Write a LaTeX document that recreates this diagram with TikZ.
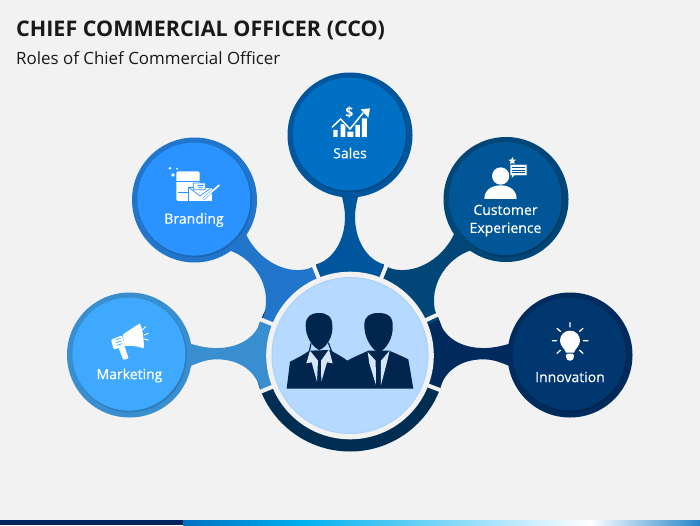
\documentclass[tikz,border=0pt]{standalone}
\usepackage{fontspec}
\setmainfont{Open Sans}
\newfontfamily\labelfont[FakeBold=0.45]{Open Sans}
\usetikzlibrary{shapes.geometric}
\definecolor{bgc}{HTML}{F2F2F2}
\definecolor{mktO}{HTML}{398ED0}\definecolor{mktS}{HTML}{2E7DBB}\definecolor{mktI}{HTML}{3FA9FF}
\definecolor{brdO}{HTML}{2176CB}\definecolor{brdS}{HTML}{1C67B2}\definecolor{brdI}{HTML}{2B93FF}
\definecolor{salO}{HTML}{00569C}\definecolor{salS}{HTML}{004A87}\definecolor{salI}{HTML}{0070C4}
\definecolor{cusO}{HTML}{004677}\definecolor{cusS}{HTML}{003A64}\definecolor{cusI}{HTML}{005696}
\definecolor{innO}{HTML}{002B5C}\definecolor{innS}{HTML}{00254F}\definecolor{innI}{HTML}{00376F}
\definecolor{ringD}{HTML}{002E52}
\definecolor{lightC}{HTML}{B5D9FF}\definecolor{lightE}{HTML}{A8D2FB}
\definecolor{figC}{HTML}{00264F}\definecolor{shirtC}{HTML}{D5E6F8}
\definecolor{barA}{HTML}{002060}\definecolor{barB}{HTML}{0070C0}\definecolor{barC}{HTML}{00B0F0}
\tikzset{
  x=1pt,y=-1pt,
  outerc/.style={circle,inner sep=0pt,minimum size=125pt,fill=#1},
  shadc/.style={circle,inner sep=0pt,minimum size=114pt,fill=#1},
  innerc/.style={circle,inner sep=0pt,minimum size=113pt,fill=#1},
  lbl/.style={text=white,font=\labelfont\fontsize{14}{18}\selectfont,align=center,inner sep=0pt},
  gapline/.style={draw=bgc,line width=4pt},
  icon/.style={fill=white,draw=none},
  iconline/.style={draw=white,line cap=round},
  zA/.style={shift={(230,230)},x=.3333pt,y=-.3333pt},
  zB/.style={shift={(50,280)},x=.3333pt,y=-.3333pt},
  zC/.style={shift={(150,70)},x=.3333pt,y=-.3333pt},
  zD/.style={shift={(430,130)},x=.3333pt,y=-.3333pt},
}
\newcommand{\bubble}[6]{%
  \node[outerc=#4] (#1o) at (#2,#3) {};
  \node[shadc=#5] (#1s) at (#2+0.4,#3+0.4) {};
  \node[innerc=#6] (#1i) at (#2-0.6,#3-0.9) {};
}
\begin{document}
\begin{tikzpicture}
\useasboundingbox (0,0) rectangle (700,525);
\fill[bgc] (0,0) rectangle (700,525);
% bottom bar
\fill[barA] (0,520) rectangle (183,525);
\shade[left color=barB,right color=barC,shading angle=90] (183,520) rectangle (303,525);
\shade[left color=barC,right color=white,shading angle=90] (303,520) rectangle (590,525);
\shade[left color=white,right color=barB!85!white,shading angle=90] (590,520) rectangle (700,525);
% titles
\node[anchor=west,inner sep=0pt,text=black!90,font=\bfseries\fontsize{21.5}{25}\selectfont] (title) at (16,30) {CHIEF COMMERCIAL OFFICER (CCO)};
\node[anchor=west,inner sep=0pt,text=black!90,font=\fontsize{16.9}{20}\selectfont] (subtitle) at (16,58.5) {Roles of Chief Commercial Officer};
% hub
\coordinate (c) at (350,355.5);
\node[circle,inner sep=0pt,minimum size=192pt,fill=ringD] (ring) at (c) {};
% connectors
\fill[mktO] (260.7,320.7) .. controls (255,340) and (235,349) .. (213,348) .. controls (205,347.5) and (198,346) .. (188,343) -- (188,367) .. controls (198,363) and (205,360) .. (213,359.5) .. controls (235,358) and (255,368) .. (261,390.7) -- (c) -- cycle;
\fill[brdO] (313.3,267) .. controls (290,277) and (258,262) .. (245,232) -- (228,250) .. controls (255,258) and (275,290) .. (262,320) -- (c) -- cycle;
\fill[salO] (316,264.3) .. controls (333,260) and (345,240) .. (345,217) .. controls (345,208) and (343,202) .. (341,192) -- (359,192) .. controls (357,202) and (355,208) .. (355,217) .. controls (355,240) and (367,260) .. (384,264.3) -- (c) -- cycle;
\fill[cusO] (386.7,267) .. controls (410,277) and (442,262) .. (455,232) -- (472,250) .. controls (445,258) and (425,290) .. (438,320) -- (c) -- cycle;
\fill[innO] (439.3,320.7) .. controls (445,340) and (465,349) .. (487,348) .. controls (495,347.5) and (502,346) .. (512,343) -- (512,367) .. controls (502,363) and (495,360) .. (487,359.5) .. controls (465,358) and (445,368) .. (439,390.7) -- (c) -- cycle;
\foreach \a in {-158,-112,-68,-25,21,158} \draw[gapline,shift={(c)}] (\a:80) -- (\a:98);
\node[circle,inner sep=0pt,minimum size=167.6pt,fill=bgc] (hubgap) at (c) {};
\node[circle,inner sep=0pt,minimum size=156pt,fill=lightC,draw=lightE,line width=1pt] (hub) at (c) {};
% two figures
\begin{scope}[zA]
\fill[figC] (170,476) -- (180,395) .. controls (200,385) and (220,375) .. (238,362) -- (300,360) .. controls (320,372) and (340,382) .. (352,392) .. controls (372,380) and (395,372) .. (415,362) -- (478,362) .. controls (500,372) and (520,380) .. (535,388) -- (550,476) -- cycle;
\fill[figC] (227,285) .. controls (227,258) and (245,249) .. (267,249) .. controls (292,249) and (308,260) .. (307,290) .. controls (309,320) and (290,352) .. (268,360) .. controls (248,352) and (226,320) .. (227,285) -- cycle;
\fill[figC] (403,285) .. controls (403,258) and (420,249) .. (445,249) .. controls (472,249) and (490,258) .. (488,290) .. controls (490,322) and (470,358) .. (446,368) .. controls (424,358) and (402,322) .. (403,285) -- cycle;
\draw[figC,line width=1.2pt] (243,340) -- (238,365) (295,338) -- (305,365);
\fill[shirtC] (240,362) -- (229,400) -- (245,397) -- (261,455) -- (264,392) -- cycle;
\fill[shirtC] (297,358) -- (308,400) -- (291,397) -- (274,455) -- (273,392) -- cycle;
\fill[shirtC] (413,366) -- (418,400) -- (438,465) -- (437,392) -- cycle;
\fill[shirtC] (479,362) -- (470,400) -- (453,465) -- (453,392) -- cycle;
\end{scope}
% satellites
\bubble{mk}{129.5}{355}{mktO}{mktS}{mktI}
\bubble{br}{194.5}{200}{brdO}{brdS}{brdI}
\bubble{sa}{350}{135}{salO}{salS}{salI}
\bubble{cu}{506}{199.5}{cusO}{cusS}{cusI}
\bubble{in}{570}{355}{innO}{innS}{innI}
% labels
\node[lbl] (lmk) at (129.5,375.5) {Marketing};
\node[lbl] (lbr) at (194,220) {Branding};
\node[lbl] (lsa) at (350,153) {Sales};
\node[lbl] (lcu) at (505.5,220.5) {Customer\\Experience};
\node[lbl] (lin) at (570,377) {Innovation};
% megaphone
\begin{scope}[zB]
\fill[icon] (219,163) -- (270,130) .. controls (278,150) and (283,180) .. (281,205) .. controls (262,198) and (240,196) .. (223,198) -- cycle;
\fill[icon,rounded corners=1pt] (183,179) -- (216,166) -- (226,200) -- (191,208) -- cycle;
\fill[icon,rounded corners=1pt] (206,205) -- (224,200) -- (236,235) -- (220,240) -- cycle;
\draw[mktI,line width=.7pt] (197,180) -- (212,175) (199,188) -- (214,183) (201,196) -- (216,191);
\draw[iconline,line width=.9pt] (277,150) -- (287,140) (283,165) -- (295,160) (283,177) -- (295,180);
\end{scope}
% branding icon
\begin{scope}[zC]
\fill[icon,rounded corners=1.5pt] (79,304) rectangle (149,393);
\draw[brdI,line width=.8pt] (79,335) -- (149,335) (85,367) -- (125,367);
\fill[icon] (60,295) circle (4) (81,297) circle (3) (69,315) circle (5.5);
\fill[icon,draw=brdI,line width=.7pt] (116,352) rectangle (186,394);
\draw[brdI,line width=.7pt] (116,352) -- (150,378) -- (186,352);
\fill[icon,draw=brdI,line width=.7pt,rounded corners=.5pt] (130,339) rectangle (166,359);
\fill[brdI] (143,345) rectangle (160,348) (143,351) rectangle (160,353);
\draw[brdI,line width=2.6pt] (160,387) -- (208,345);
\draw[white,line width=1.6pt] (160,387) -- (208,345);
\end{scope}
% sales icon
\begin{scope}[zC]
\fill[icon] (550,180) rectangle (563,201) (572,162) rectangle (586,201) (592,185) rectangle (610,201) (616,165) rectangle (630,201) (636,145) rectangle (651,201);
\draw[salI,line width=2.6pt,line join=miter] (546,172) -- (572,147) -- (600,177) -- (640,128);
\draw[white,line width=1.5pt,line join=miter] (546,172) -- (572,147) -- (600,177) -- (640,128);
\fill[icon] (632,118) -- (660,115) -- (655,143) -- cycle;
\node[text=white,inner sep=0pt,font=\bfseries\fontsize{14}{14}\selectfont] (dollar) at (598,127) {\$};
\end{scope}
% customer icon
\begin{scope}[zD]
\fill[icon] (212,138) circle (26);
\fill[icon] (163,207) .. controls (163,180) and (185,166) .. (212,166) .. controls (238,166) and (260,180) .. (260,207) -- cycle;
\fill[icon,draw=cusI,line width=.6pt] (240,103) -- (291,103) -- (291,137) -- (254,137) -- (245,146) -- (245,137) -- (240,137) -- cycle;
\draw[cusI,line width=.7pt] (247,112) -- (285,112) (247,120) -- (285,120) (247,128) -- (285,128);
\node[star,star points=5,star point ratio=2.3,fill=white,inner sep=0pt,minimum size=8pt] (cstar) at (247,93) {};
\end{scope}
% bulb icon
\begin{scope}[zD]
\fill[icon] (420,602) .. controls (402,602) and (390,616) .. (390,632) .. controls (390,648) and (404,655) .. (408,668) -- (432,668) .. controls (436,655) and (450,648) .. (450,632) .. controls (450,616) and (438,602) .. (420,602) -- cycle;
\fill[icon,rounded corners=1.5pt] (408,671) -- (432,671) -- (432,684) -- (426,692) -- (414,692) -- (408,684) -- cycle;
\draw[iconline,line width=1.3pt] (420,578) -- (420,591) (367,632) -- (380,632) (460,632) -- (474,632) (381,595) -- (391,604) (459,595) -- (449,604) (381,670) -- (391,661) (459,670) -- (449,661);
\end{scope}
\end{tikzpicture}
\end{document}
